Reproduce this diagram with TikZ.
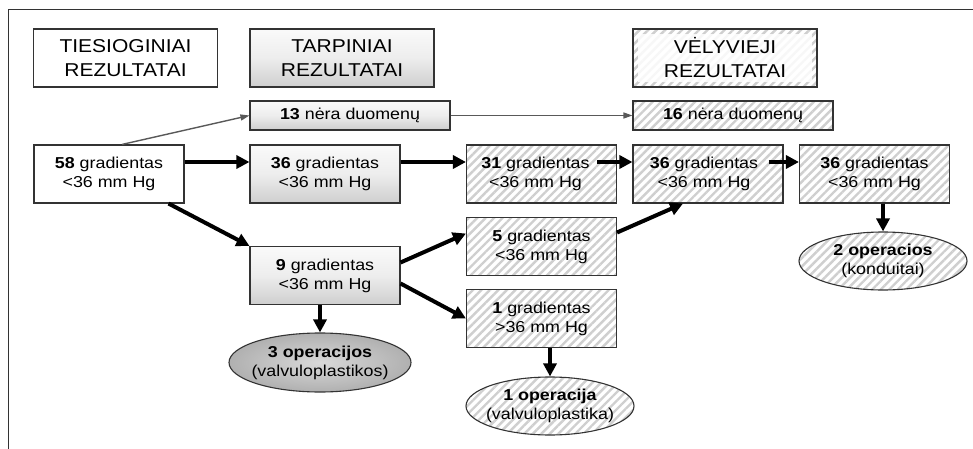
\documentclass[tikz,border=0pt]{standalone}
\usepackage{fontspec}
\setmainfont{Liberation Sans}[FakeStretch=1.13]
\usetikzlibrary{shapes.geometric,arrows.meta,patterns.meta}

\begin{document}
\begin{tikzpicture}[x=1pt,y=-1pt]
		\tikzstyle {box} = [draw=black!80, line width=1.1pt, inner sep=0pt, align=center, font=\fontsize{15.8}{19}\selectfont]
		\tikzstyle {head box} = [box, minimum width=184pt, minimum height=58pt, font=\fontsize{18.6}{24}\selectfont]
		\tikzstyle {grad box} = [box, minimum width=150pt, minimum height=58pt]
		\tikzstyle {none box} = [box, minimum width=200pt, minimum height=29pt]
		\tikzstyle {op ellipse} = [box, ellipse, minimum width=168pt, minimum height=58pt]
		\tikzstyle {gray fill} = [top color=gray!4, bottom color=gray!38, middle color=gray!14]
		\tikzstyle {hatch fill} = [pattern={Lines[angle=45,distance=6pt,line width=2.4pt]}, pattern color=gray!38]
		\tikzstyle {thick arrow} = [line width=4pt, -{Triangle[length=13pt,width=13pt]}]
		\tikzstyle {thin arrow} = [gray!70!black, line width=1.4pt, -{Triangle[length=9pt,width=6pt]}]

		\useasboundingbox (0,0) rectangle (973,449);
		\draw[black!80, line width=0.8pt] (8,449) -- (8,9) -- (973,9);

		% headers
		\node[head box] (hdr1) at (125.5,58) {TIESIOGINIAI\\REZULTATAI};
		\node[head box, gray fill] (hdr2) at (342,58) {TARPINIAI\\REZULTATAI};
		\node[head box, hatch fill, path picture={\fill[white, opacity=0.85] ([xshift=5pt,yshift=-5pt]path picture bounding box.north west) rectangle ([xshift=-5pt,yshift=5pt]path picture bounding box.south east);}] (hdr3) at (725,58) {VĖLYVIEJI\\REZULTATAI};

		% missing data
		\node[none box, gray fill] (none13) at (350,115.5) {\textbf{13} nėra duomenų};
		\node[none box, hatch fill] (none16) at (733,115.5) {\textbf{16} nėra duomenų};

		% gradients
		\node[grad box] (g58) at (109,174) {\textbf{58} gradientas\\<36 mm Hg};
		\node[grad box, gray fill] (g36) at (325,174) {\textbf{36} gradientas\\<36 mm Hg};
		\node[grad box, hatch fill] (g31) at (541.5,174) {\textbf{31} gradientas\hspace*{12pt}\\<36 mm Hg\hspace*{12pt}};
		\node[grad box, hatch fill] (g36a) at (708,174) {\textbf{36} gradientas\hspace*{8pt}\\<36 mm Hg\hspace*{8pt}};
		\node[grad box, hatch fill] (g36b) at (874.5,174) {\textbf{36} gradientas\\<36 mm Hg};
		\node[grad box, gray fill] (g9) at (325,275.5) {\textbf{9} gradientas\\<36 mm Hg};
		\node[grad box, hatch fill] (g5) at (541.5,246.5) {\textbf{5} gradientas\\<36 mm Hg};
		\node[grad box, hatch fill] (g1) at (541.5,318.5) {\textbf{1} gradientas\\>36 mm Hg};

		% operations
		\node[op ellipse, inner color=gray!30, outer color=gray!62, minimum width=182pt, minimum height=59pt] (op3) at (320,362.5) {\makebox[0pt]{\textbf{3 operacijos}}\\\makebox[0pt]{(valvuloplastikos)}};
		\node[op ellipse, hatch fill] (op1) at (550,406) {\makebox[0pt]{\textbf{1 operacija}}\\\makebox[0pt]{(valvuloplastika)}};
		\node[op ellipse, hatch fill] (op2) at (883,261) {\makebox[0pt]{\textbf{2 operacios}}\\\makebox[0pt]{(konduitai)}};

		% connectors
		\draw[thin arrow] ([xshift=13pt]g58.north) -- (none13.west);
		\draw[thin arrow] (none13.east) -- (none16.west);
		\draw[thick arrow] ([yshift=12pt]g58.east) -- ([yshift=12pt]g36.west);
		\draw[thick arrow] ([yshift=12pt]g36.east) -- ([yshift=12pt]g31.west);
		\draw[thick arrow] ([xshift=-20pt,yshift=12pt]g31.east) -- ([yshift=12pt]g36a.west);
		\draw[thick arrow] ([xshift=-15pt,yshift=12pt]g36a.east) -- ([yshift=12pt]g36b.west);
		\draw[thick arrow] ([xshift=-16pt]g58.south east) -- (g9.north west);
		\draw[thick arrow] ([yshift=13pt]g9.east) -- ([yshift=13pt]g5.west);
		\draw[thick arrow] ([yshift=-8pt]g9.east) -- (g1.west);
		\draw[thick arrow] ([yshift=14pt]g5.east) -- ([xshift=-25pt]g36a.south);
		\draw[thick arrow] (op3.north |- g9.south) -- (op3.north);
		\draw[thick arrow] (op1.north |- g1.south) -- (op1.north);
		\draw[thick arrow] (op2.north |- g36b.south) -- (op2.north);
\end{tikzpicture}
\end{document}
